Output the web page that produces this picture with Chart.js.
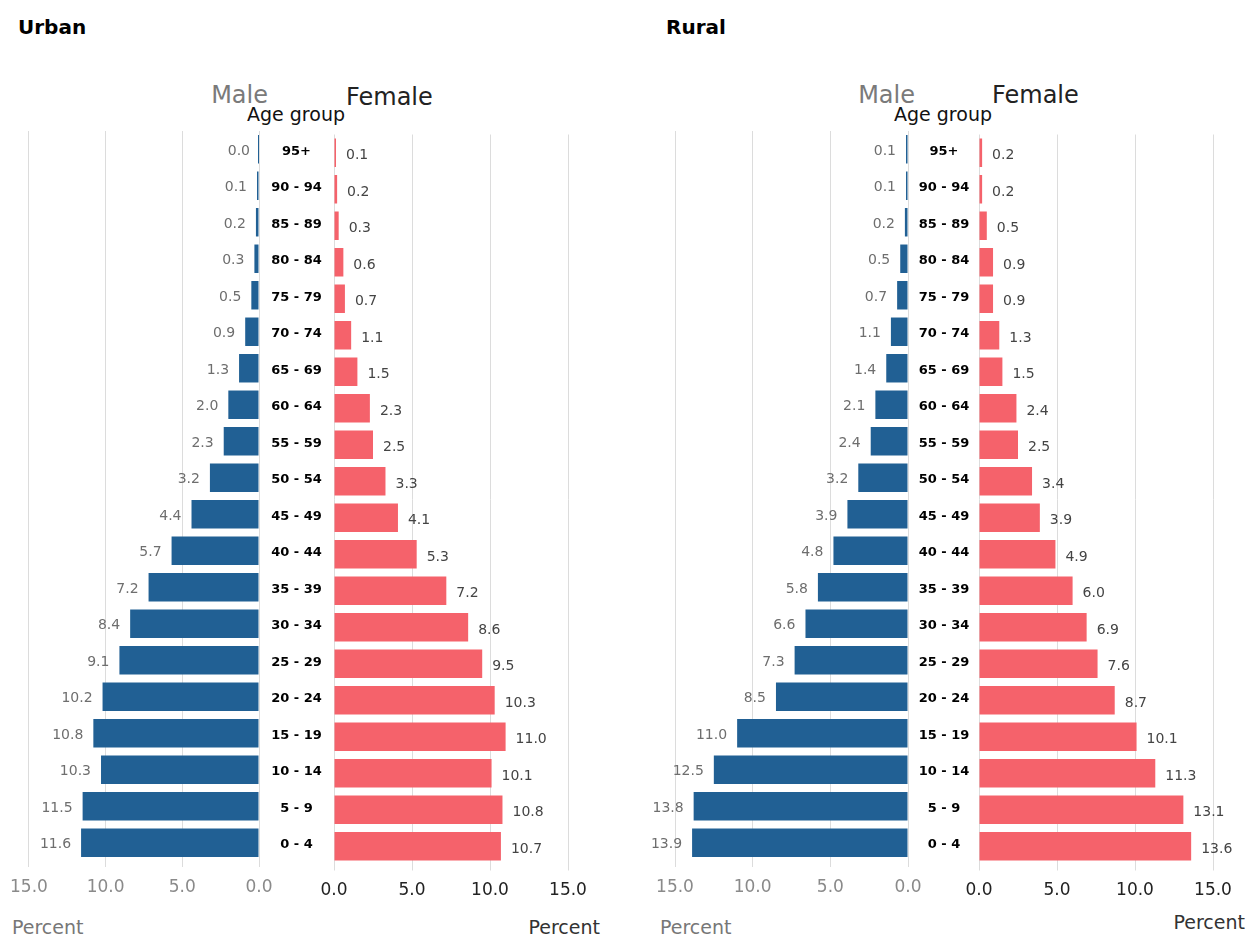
<!DOCTYPE html>
<html>
<head>
<meta charset="utf-8">
<script src="https://cdn.jsdelivr.net/npm/chart.js@4.4.1/dist/chart.umd.min.js"></script>
<style>
  body { margin: 0; background: #fff; }
  #wrap { position: relative; width: 1248px; height: 937px; overflow: hidden; font-family: 'DejaVu Sans', sans-serif; }
  canvas { position: absolute; top: 0; }
  .t { position: absolute; white-space: nowrap; line-height: 1; transform: translateY(-50%); }
</style>
</head>
<body>
<div id="wrap">
  <div class="t" style="left:18px;top:27px;font-size:20px;font-weight:bold;color:#000">Urban</div>
  <div class="t" style="left:666px;top:27px;font-size:20px;font-weight:bold;color:#000">Rural</div>

  <div class="t" style="right:980px;top:95px;font-size:24px;color:#7a7a7a">Male</div>
  <div class="t" style="left:346px;top:97px;font-size:24px;color:#222">Female</div>
  <div class="t" style="left:296px;top:114px;font-size:19px;color:#111;transform:translate(-50%,-50%)">Age group</div>

  <div class="t" style="right:333px;top:95px;font-size:24px;color:#7a7a7a">Male</div>
  <div class="t" style="left:992px;top:95px;font-size:24px;color:#222">Female</div>
  <div class="t" style="left:943px;top:114px;font-size:19px;color:#111;transform:translate(-50%,-50%)">Age group</div>

  <div class="t" style="left:12px;top:927px;font-size:19px;color:#777">Percent</div>
  <div class="t" style="right:648px;top:927px;font-size:19px;color:#333">Percent</div>
  <div class="t" style="left:660px;top:927px;font-size:19px;color:#777">Percent</div>
  <div class="t" style="right:3px;top:922px;font-size:19px;color:#333">Percent</div>

  <canvas id="um" width="334" height="937" style="left:0px;width:334px;height:937px"></canvas>
  <canvas id="uf" width="320" height="937" style="left:300px;width:320px;height:937px"></canvas>
  <canvas id="rm" width="340" height="937" style="left:640px;width:340px;height:937px"></canvas>
  <canvas id="rf" width="303" height="937" style="left:945px;width:303px;height:937px"></canvas>
</div>
<script>
// ---- Data ----
const ageGroups = ['95+', '90 - 94', '85 - 89', '80 - 84', '75 - 79', '70 - 74', '65 - 69', '60 - 64',
  '55 - 59', '50 - 54', '45 - 49', '40 - 44', '35 - 39', '30 - 34', '25 - 29', '20 - 24',
  '15 - 19', '10 - 14', '5 - 9', '0 - 4'];
const urbanMale   = [0.0, 0.1, 0.2, 0.3, 0.5, 0.9, 1.3, 2.0, 2.3, 3.2, 4.4, 5.7, 7.2, 8.4, 9.1, 10.2, 10.8, 10.3, 11.5, 11.6];
const urbanFemale = [0.1, 0.2, 0.3, 0.6, 0.7, 1.1, 1.5, 2.3, 2.5, 3.3, 4.1, 5.3, 7.2, 8.6, 9.5, 10.3, 11.0, 10.1, 10.8, 10.7];
const ruralMale   = [0.1, 0.1, 0.2, 0.5, 0.7, 1.1, 1.4, 2.1, 2.4, 3.2, 3.9, 4.8, 5.8, 6.6, 7.3, 8.5, 11.0, 12.5, 13.8, 13.9];
const ruralFemale = [0.2, 0.2, 0.5, 0.9, 0.9, 1.3, 1.5, 2.4, 2.5, 3.4, 3.9, 4.9, 6.0, 6.9, 7.6, 8.7, 10.1, 11.3, 13.1, 13.6];
const axisMin = 0, axisMax = 15, axisStep = 5;

// ---- Styles ----
const FONT = "'DejaVu Sans', sans-serif";
const MALE_COLOR = '#216094';
const FEMALE_COLOR = '#f5626b';
const GRID = '#dcdcdc';

const valueLabels = {
  id: 'valueLabels',
  afterDatasetsDraw(chart, args, opts) {
    const ctx = chart.ctx;
    const meta = chart.getDatasetMeta(0);
    const data = chart.data.datasets[0].data;
    ctx.save();
    ctx.font = opts.font;
    ctx.fillStyle = opts.color;
    ctx.textBaseline = 'middle';
    ctx.textAlign = opts.side === 'left' ? 'right' : 'left';
    meta.data.forEach((bar, i) => {
      const x = opts.side === 'left' ? bar.x - opts.gap : bar.x + opts.gap;
      ctx.fillText(Number(data[i]).toFixed(1), x, bar.y + opts.dy);
    });
    ctx.restore();
  }
};

function measureWidest(labels, font) {
  const c = document.createElement('canvas').getContext('2d');
  c.font = font;
  return Math.max(...labels.map(l => c.measureText(l).width));
}

function makeSide(o) {
  const isMale = o.side === 'left';
  const ageFont = { family: FONT, size: 13, weight: 'bold' };
  const widest = measureWidest(ageGroups, `bold 13px ${FONT}`);
  const yPad = isMale ? Math.max(0, (o.yWidth - widest) / 2) : 0;
  return new Chart(document.getElementById(o.id), {
    type: 'bar',
    data: {
      labels: ageGroups,
      datasets: [{
        data: o.values,
        backgroundColor: isMale ? MALE_COLOR : FEMALE_COLOR,
        borderWidth: 0,
        minBarLength: 2,
        barPercentage: 0.78,
        categoryPercentage: 1.0
      }]
    },
    plugins: [valueLabels],
    options: {
      indexAxis: 'y',
      responsive: false,
      animation: false,
      devicePixelRatio: 1,
      layout: { padding: o.padding },
      plugins: {
        legend: { display: false },
        tooltip: { enabled: false },
        valueLabels: {
          side: o.side,
          font: `14px ${FONT}`,
          color: isMale ? '#6e6e6e' : '#444',
          gap: 10,
          dy: isMale ? 2 : 3
        }
      },
      scales: {
        x: {
          type: 'linear',
          reverse: isMale,
          min: axisMin, max: axisMax,
          ticks: {
            stepSize: axisStep,
            callback: v => Number(v).toFixed(1),
            color: isMale ? '#8a8a8a' : '#222',
            font: { family: FONT, size: 17 },
            padding: 10,
            maxRotation: 0
          },
          grid: { color: GRID, lineWidth: 1, drawTicks: true, tickLength: 6, tickColor: GRID },
          border: { display: false },
          afterFit: s => { s.height = o.xHeight; }
        },
        y: {
          type: 'category',
          position: 'right',
          display: isMale,
          grid: { display: false, drawTicks: false },
          border: { display: false },
          ticks: {
            color: '#000',
            font: ageFont,
            crossAlign: 'center',
            padding: yPad,
            labelOffset: 2,
            autoSkip: false
          },
          afterFit: s => { if (isMale) s.width = o.yWidth; }
        }
      }
    }
  });
}

makeSide({ id: 'um', side: 'left', values: urbanMale,
  padding: { left: 26, top: 131, right: 0, bottom: 0 }, yWidth: 75, xHeight: 76 });
makeSide({ id: 'uf', side: 'right', values: urbanFemale,
  padding: { left: 34, top: 134.5, right: 52, bottom: 0 }, xHeight: 72.5 });
makeSide({ id: 'rm', side: 'left', values: ruralMale,
  padding: { left: 35, top: 131, right: 0, bottom: 0 }, yWidth: 72, xHeight: 76 });
makeSide({ id: 'rf', side: 'right', values: ruralFemale,
  padding: { left: 34, top: 134.5, right: 35, bottom: 0 }, xHeight: 72.5 });
</script>
</body>
</html>
